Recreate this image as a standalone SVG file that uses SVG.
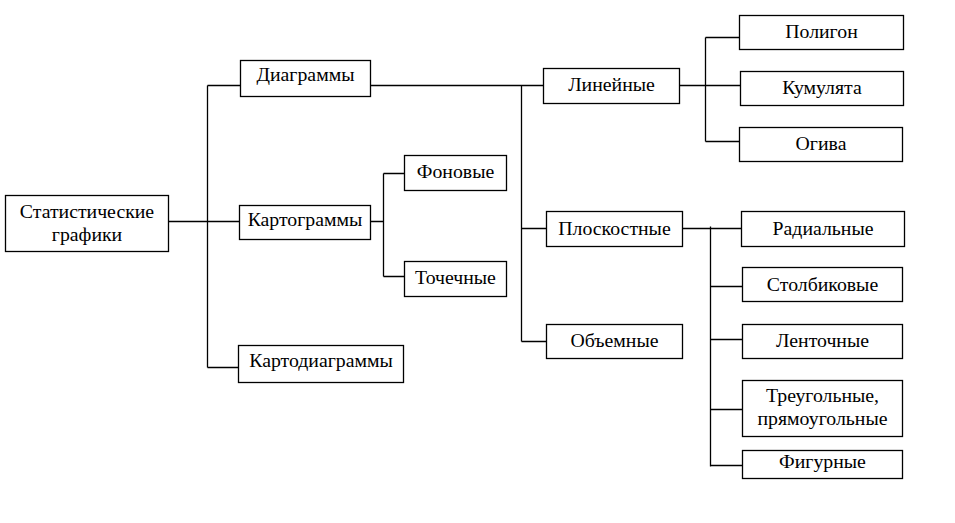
<svg xmlns="http://www.w3.org/2000/svg" width="955" height="523" viewBox="0 0 955 523">
<style>
rect{fill:#fff;stroke:#000;stroke-width:1.3}
text{font-family:'Liberation Serif','Times New Roman','DejaVu Serif',serif;font-size:19.8px;fill:#000;text-anchor:middle}
#connectors path{fill:none;stroke:#000;stroke-width:1.3}
</style>
<rect x="0" y="0" width="955" height="523" style="stroke:none"/>
<g id="connectors">
<path d="M168.5 221.5H240M207.5 85.5V367.5M207.5 85.5H240.5M207.5 367.5H238.5"/>
<path d="M370.5 221.5H383.5M383.5 173.5V276.5M383.5 173.5H404.5M383.5 276.5H404.5"/>
<path d="M370.5 85.5H543.5M521.5 85.5V341.5M521.5 228.5H546.5M521.5 341.5H546.5"/>
<path d="M679.5 85.5H740.5M705.5 37.5V141.5M705.5 37.5H739.5M705.5 141.5H739.5"/>
<path d="M682.5 228.5H741.5M710.5 226.5V466.5M710.5 286.5H742.5M710.5 339.5H742.5M710.5 409.5H742.5M710.5 465.5H742.5"/>
</g>
<g id="stat"><rect x="5.5" y="195.5" width="163" height="56"/><text x="87" y="218">Статистические</text><text x="87" y="241">графики</text></g>
<g id="diagrammy"><rect x="240.5" y="60.5" width="130" height="36"/><text x="305.5" y="81">Диаграммы</text></g>
<g id="kartogrammy"><rect x="239.5" y="205.5" width="131" height="34"/><text x="305" y="226">Картограммы</text></g>
<g id="kartodiagrammy"><rect x="238.5" y="345.5" width="165" height="37"/><text x="321" y="367">Картодиаграммы</text></g>
<g id="fonovye"><rect x="404.5" y="155.5" width="102" height="35"/><text x="455.5" y="178">Фоновые</text></g>
<g id="tochechnye"><rect x="404.5" y="261.5" width="102" height="35"/><text x="455.5" y="284">Точечные</text></g>
<g id="lineynye"><rect x="543.5" y="68.5" width="136" height="35"/><text x="611.5" y="91">Линейные</text></g>
<g id="ploskostnye"><rect x="546.5" y="211.5" width="136" height="35"/><text x="614.5" y="234.5">Плоскостные</text></g>
<g id="obemnye"><rect x="546.5" y="324.5" width="136" height="34"/><text x="614.5" y="346.5">Объемные</text></g>
<g id="poligon"><rect x="739.5" y="15.5" width="164" height="34"/><text x="821.5" y="38.3">Полигон</text></g>
<g id="kumulyata"><rect x="740.5" y="71.5" width="163" height="34"/><text x="822" y="94.3">Кумулята</text></g>
<g id="ogiva"><rect x="739.5" y="127.5" width="163" height="34"/><text x="821" y="150">Огива</text></g>
<g id="radialnye"><rect x="741.5" y="211.5" width="163" height="35"/><text x="823" y="235.3">Радиальные</text></g>
<g id="stolbikovye"><rect x="742.5" y="267.5" width="160" height="34"/><text x="822.5" y="290.5">Столбиковые</text></g>
<g id="lentochnye"><rect x="742.5" y="324.5" width="160" height="34"/><text x="822.5" y="346.5">Ленточные</text></g>
<g id="treugolnye"><rect x="742.5" y="380.5" width="160" height="56"/><text x="822.5" y="401.7">Треугольные,</text><text x="822.5" y="425">прямоугольные</text></g>
<g id="figurnye"><rect x="742.5" y="450.5" width="160" height="28"/><text x="822.5" y="468.3">Фигурные</text></g>
</svg>
